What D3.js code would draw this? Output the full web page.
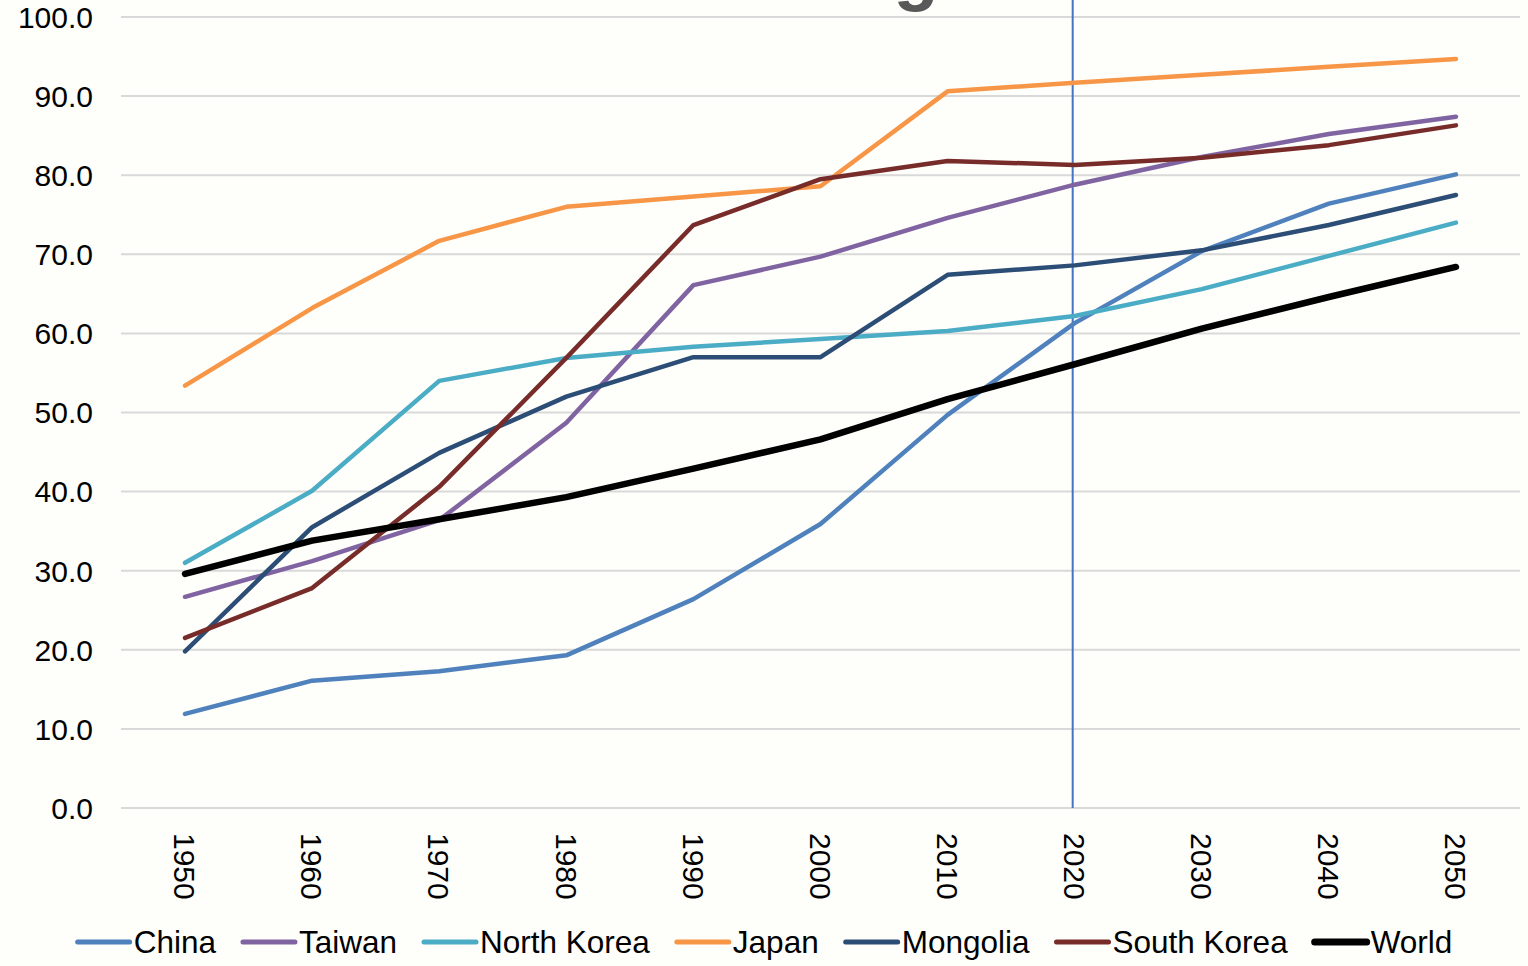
<!DOCTYPE html>
<html>
<head>
<meta charset="utf-8">
<script src="https://cdn.jsdelivr.net/npm/d3@7"></script>
<style>
  html, body { margin: 0; padding: 0; background: #FEFEFA; }
  svg { display: block; font-family: Arial, "Liberation Sans", sans-serif; }
</style>
</head>
<body>
<svg id="chart"></svg>
<script>
const years = ["1950", "1960", "1970", "1980", "1990", "2000", "2010", "2020", "2030", "2040", "2050"];
const china = [11.9, 16.1, 17.3, 19.3, 26.4, 35.9, 49.7, 61.3, 70.4, 76.4, 80.1];
const taiwan = [26.7, 31.2, 36.4, 48.7, 66.1, 69.7, 74.6, 78.8, 82.3, 85.2, 87.4];
const northKorea = [31.0, 40.1, 54.0, 56.9, 58.3, 59.3, 60.3, 62.2, 65.6, 69.8, 74.0];
const japan = [53.4, 63.2, 71.7, 76.0, 77.3, 78.6, 90.6, 91.7, 92.7, 93.7, 94.7];
const mongolia = [19.8, 35.5, 44.9, 52.0, 57.0, 57.0, 67.4, 68.6, 70.5, 73.7, 77.5];
const southKorea = [21.5, 27.8, 40.6, 56.9, 73.7, 79.5, 81.8, 81.3, 82.2, 83.8, 86.3];
const world = [29.6, 33.8, 36.5, 39.3, 42.9, 46.6, 51.7, 56.1, 60.6, 64.6, 68.4];
const yTicks = [0, 10, 20, 30, 40, 50, 60, 70, 80, 90, 100];
const markerYear = "2020";

const series = [
  { name: "China", values: china, color: "#4F81BD", width: 4.5 },
  { name: "Taiwan", values: taiwan, color: "#8064A2", width: 4.5 },
  { name: "North Korea", values: northKorea, color: "#4BACC6", width: 4.5 },
  { name: "Japan", values: japan, color: "#F79646", width: 4.5 },
  { name: "Mongolia", values: mongolia, color: "#2C4D75", width: 4.5 },
  { name: "South Korea", values: southKorea, color: "#772C2A", width: 4.5 },
  { name: "World", values: world, color: "#000000", width: 6.5 }
];

const W = 1528, H = 966;
const svg = d3.select("#chart").attr("width", W).attr("height", H);

svg.append("rect").attr("width", W).attr("height", H).attr("fill", "#FEFEFA");

// title sits mostly above the visible area, only a descender shows
svg.append("text")
  .attr("x", 916).attr("y", -3)
  .attr("text-anchor", "middle")
  .attr("font-size", 74).attr("font-weight", "bold")
  .attr("fill", "#595959")
  .text("g");

const x = d3.scalePoint().domain(years).range([121.5, 1519.5]).padding(0.5);
const y = d3.scaleLinear().domain([0, 100]).range([808, 17]);

// gridlines
svg.append("g")
  .selectAll("line")
  .data(yTicks)
  .join("line")
  .attr("x1", 121).attr("x2", 1520)
  .attr("y1", d => y(d)).attr("y2", d => y(d))
  .attr("stroke", "#D9D9D9").attr("stroke-width", 2);

// y labels
svg.append("g")
  .selectAll("text")
  .data(yTicks)
  .join("text")
  .attr("x", 93)
  .attr("y", d => y(d))
  .attr("dy", "0.36em")
  .attr("text-anchor", "end")
  .attr("font-size", 30)
  .attr("fill", "#000")
  .text(d => d.toFixed(1));

// x labels, rotated to read downward
svg.append("g")
  .selectAll("text")
  .data(years)
  .join("text")
  .attr("transform", d => `translate(${x(d)},833) rotate(90)`)
  .attr("dy", "0.36em")
  .attr("text-anchor", "start")
  .attr("font-size", 30)
  .attr("fill", "#000")
  .text(d => d);

// vertical marker at 2020
svg.append("line")
  .attr("x1", x(markerYear) - 2).attr("x2", x(markerYear) - 2)
  .attr("y1", 0).attr("y2", y(0))
  .attr("stroke", "#4472C4").attr("stroke-width", 2);

const line = d3.line()
  .x((d, i) => x(years[i]))
  .y(d => y(d));

svg.append("g")
  .selectAll("path")
  .data(series)
  .join("path")
  .attr("d", d => line(d.values))
  .attr("fill", "none")
  .attr("stroke", d => d.color)
  .attr("stroke-width", d => d.width)
  .attr("stroke-linejoin", "round")
  .attr("stroke-linecap", "round");

// legend
const legend = svg.append("g");
let cx = 0;
series.forEach(s => {
  const g = legend.append("g").attr("transform", `translate(${cx},0)`);
  g.append("line")
    .attr("x1", 2).attr("x2", 54)
    .attr("y1", 0).attr("y2", 0)
    .attr("stroke", s.color)
    .attr("stroke-width", s.width + 0.5)
    .attr("stroke-linecap", "round");
  const t = g.append("text")
    .attr("x", 58).attr("dy", "0.36em")
    .attr("font-size", 31.5)
    .attr("fill", "#000")
    .text(s.name);
  const w = t.node().getComputedTextLength();
  cx += 58 + w + 25;
});
const total = cx - 25;
legend.attr("transform", `translate(${(W - total) / 2},942)`);
</script>
</body>
</html>
